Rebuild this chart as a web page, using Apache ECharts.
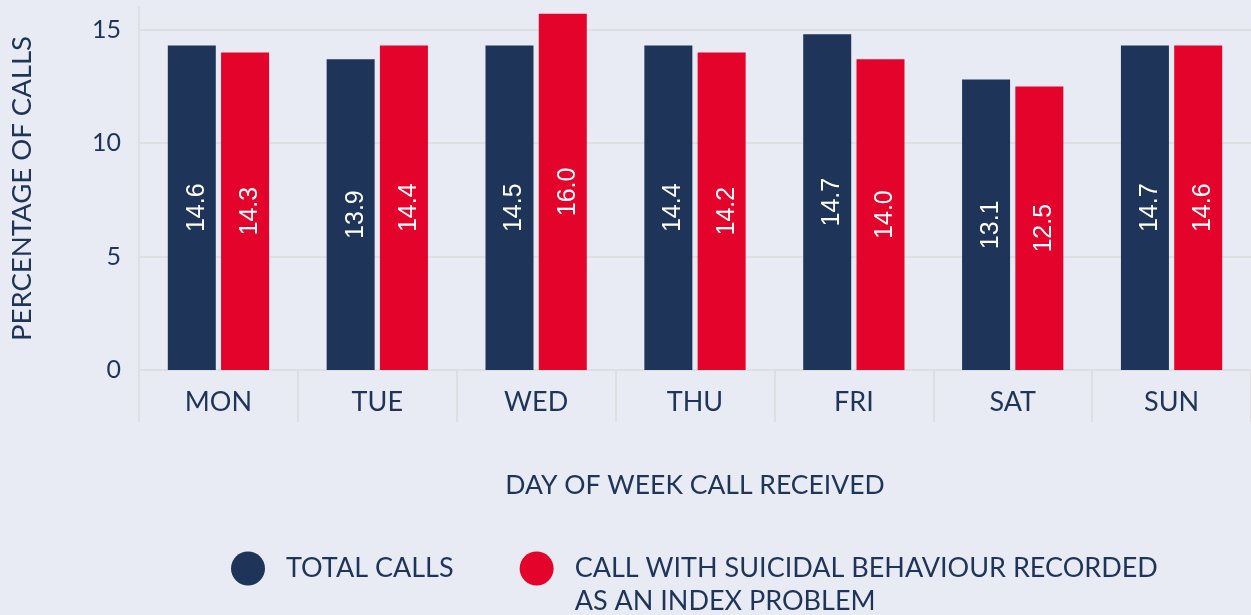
<!DOCTYPE html>
<html>
<head>
<meta charset="utf-8">
<script src="https://cdn.jsdelivr.net/npm/echarts@6/dist/echarts.min.js"></script>
<style>
    html, body {margin: 0; padding: 0; background: #e8ebf3;}
    #weekChart {width: 1251px; height: 615px;}
</style>
</head>
<body>
<div id="weekChart"></div>
<script>
// days on the x axis
var days = ['MON', 'TUE', 'WED', 'THU', 'FRI', 'SAT', 'SUN'];
// bar heights as drawn in the picture
var totalCalls = [14.3, 13.7, 14.3, 14.3, 14.8, 12.8, 14.3];
var suicidalCalls = [14.0, 14.3, 15.7, 14.0, 13.7, 12.5, 14.3];
// values printed in the bars
var totalLabels = ['14.6', '13.9', '14.5', '14.4', '14.7', '13.1', '14.7'];
var suicidalLabels = ['14.3', '14.4', '16.0', '14.2', '14.0', '12.5', '14.6'];
// gridlines
var gridValues = [5, 10, 15];

var navy = '#1e3459';
var red = '#e4032b';
var gray = '#dedfe2';
var axisFont = 'Lato, "Noto Sans", sans-serif';

var totalName = 'TOTAL CALLS';
var suicidalName = 'CALL WITH SUICIDAL BEHAVIOUR RECORDED\nAS AN INDEX PROBLEM';

var myChart = echarts.init(document.getElementById('weekChart'));

var barLabel = function (texts) {
    return {
        show: true,
        position: 'inside',
        rotate: 90,
        offset: [0, 5],
        color: '#fff',
        fontSize: 25,
        fontFamily: '"Liberation Sans", Arial, sans-serif',
        formatter: function (p) {
            return texts[p.dataIndex];
        }
    };
};

var option = {
    backgroundColor: '#e8ebf3',
    animation: false,
    grid: {
        left: 135,
        right: 0,
        top: 7,
        bottom: 245
    },
    legend: {
        left: 231,
        top: 519,
        padding: 0,
        icon: 'circle',
        itemWidth: 34,
        itemHeight: 34,
        itemGap: 66,
        textStyle: {
            color: navy,
            fontSize: 27,
            fontFamily: axisFont,
            lineHeight: 33,
            padding: [0, 0, 0, 16]
        },
        // empty first line keeps the circle level with the first text line
        formatter: function (name) {
            return name.indexOf('\n') > -1 ? '\n' + name : name;
        },
        data: [totalName, suicidalName]
    },
    xAxis: {
        type: 'category',
        data: days,
        name: 'DAY OF WEEK CALL RECEIVED',
        nameLocation: 'middle',
        nameGap: 102,
        nameTextStyle: {color: navy, fontSize: 26.5, fontFamily: axisFont},
        axisLine: {lineStyle: {color: gray, width: 2}},
        axisTick: {show: true, length: 52, lineStyle: {color: gray, width: 2}},
        axisLabel: {color: navy, fontSize: 27, fontFamily: axisFont, margin: 19}
    },
    yAxis: {
        type: 'value',
        min: 0,
        max: 16,
        interval: 5,
        name: 'PERCENTAGE OF CALLS',
        nameLocation: 'middle',
        nameGap: 103,
        nameTextStyle: {color: navy, fontSize: 27.5, fontFamily: axisFont},
        axisLine: {show: true, lineStyle: {color: gray, width: 2}},
        axisTick: {show: false},
        splitLine: {show: false},
        axisLabel: {color: navy, fontSize: 25, fontFamily: axisFont, margin: 18, showMaxLabel: false}
    },
    series: [
        {
            name: totalName,
            type: 'bar',
            barWidth: 48,
            barGap: '11%',
            itemStyle: {color: navy},
            label: barLabel(totalLabels),
            data: totalCalls,
            markLine: {
                silent: true,
                symbol: 'none',
                label: {show: false},
                lineStyle: {color: gray, width: 2, type: 'solid'},
                z: 1,
                data: gridValues.map(function (v) {
                    return {yAxis: v};
                })
            }
        },
        {
            name: suicidalName,
            type: 'bar',
            barWidth: 48,
            itemStyle: {color: red},
            label: barLabel(suicidalLabels),
            data: suicidalCalls
        }
    ]
};
myChart.setOption(option);
</script>
</body>
</html>
